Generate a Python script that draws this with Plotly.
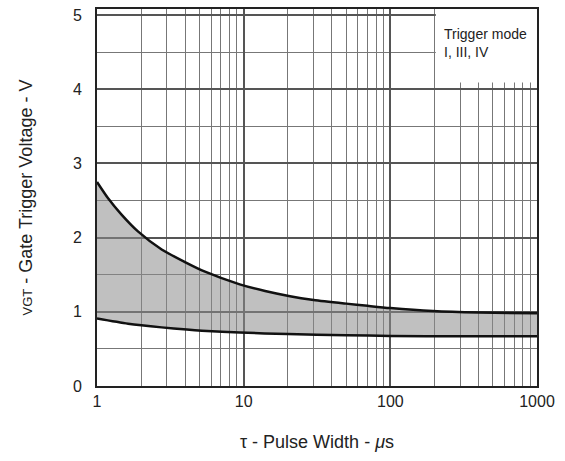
import plotly.graph_objects as go

# Data
upper_x = [1, 1.19, 1.47, 1.91, 2.76, 3.98, 5.45, 9.4, 14, 20.7, 30, 50, 70, 100, 195, 400, 1000]
upper_v = [2.75, 2.53, 2.31, 2.08, 1.84, 1.67, 1.54, 1.37, 1.28, 1.21, 1.16, 1.11, 1.08, 1.05, 1.01, 0.99, 0.98]
lower_x = [1, 1.63, 2.76, 4.1, 5.2, 9.4, 20, 50, 100, 300, 1000]
lower_v = [0.91, 0.84, 0.79, 0.76, 0.745, 0.72, 0.70, 0.685, 0.675, 0.67, 0.67]

x_major = [1, 10, 100, 1000]
x_labels = ["1", "10", "100", "1000"]
x_minor = [m * d for d in (1, 10, 100) for m in range(2, 10)]
y_major = [0, 1, 2, 3, 4, 5]
y_minor = [0.5, 1.5, 2.5, 3.5, 4.5]

fig = go.Figure()
fig.add_trace(go.Scatter(x=lower_x, y=lower_v, mode="lines",
                         line=dict(color="#111", width=2.5, shape="spline", smoothing=0.7),
                         hoverinfo="skip", showlegend=False))
fig.add_trace(go.Scatter(x=upper_x, y=upper_v, mode="lines",
                         line=dict(color="#111", width=2.5, shape="spline", smoothing=0.7),
                         fill="tonexty", fillcolor="rgba(140,140,140,0.55)",
                         hoverinfo="skip", showlegend=False))

font = "Liberation Sans, Arial, sans-serif"
fig.update_layout(
    width=565, height=461,
    margin=dict(l=97, r=28, t=7, b=75),
    paper_bgcolor="white", plot_bgcolor="white",
    font=dict(family=font, size=16, color="#222"),
    xaxis=dict(type="log", range=[0, 3], tickvals=x_major, ticktext=x_labels,
               showgrid=True, gridcolor="#555", gridwidth=1.5,
               minor=dict(tickvals=x_minor, showgrid=True, gridcolor="#777", gridwidth=1.2, ticks=""),
               showline=True, linecolor="#222", linewidth=2, mirror=True,
               ticks="", zeroline=False,
               title=dict(text="τ - Pulse Width - <i>μ</i>s", font=dict(size=18), standoff=26)),
    yaxis=dict(range=[0, 5.08], tickvals=y_major,
               showgrid=True, gridcolor="#555", gridwidth=1.5,
               minor=dict(tickvals=y_minor, showgrid=True, gridcolor="#777", gridwidth=1.2, ticks=""),
               showline=True, linecolor="#222", linewidth=2, mirror=True,
               ticks="", zeroline=False, ticklabelstandoff=10,
               title=dict(text="<span style='font-size:13px'>VGT</span> - Gate Trigger Voltage - V",
                          font=dict(size=18), standoff=36)),
)

fig.add_shape(type="rect", xref="paper", yref="paper", x0=0.77, x1=1.0, y0=0.805, y1=1.0,
              fillcolor="white", line=dict(width=0), layer="above")
fig.add_annotation(xref="paper", yref="paper", x=0.783, y=0.96, xanchor="left", yanchor="top",
                   text="Trigger mode<br>I, III, IV", showarrow=False, align="left",
                   font=dict(size=14, color="#222"))

fig.write_html("out.html")
